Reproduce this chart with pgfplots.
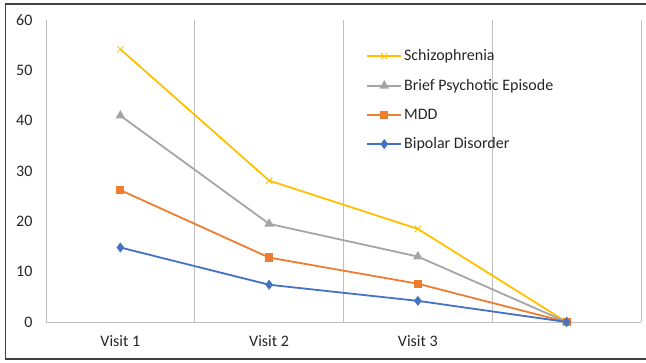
\documentclass[border=0pt]{standalone}
\usepackage{pgfplots}
\pgfplotsset{compat=1.18}
\usepackage{fontspec}
\setmainfont{Carlito}
\definecolor{cschiz}{HTML}{FFC000}
\definecolor{cbrief}{HTML}{A5A5A5}
\definecolor{cmdd}{HTML}{ED7D31}
\definecolor{cbip}{HTML}{4472C4}
\definecolor{cgrid}{HTML}{BFBFBF}
\begin{document}
\begin{tikzpicture}[x=1pt,y=1pt]
\useasboundingbox (-46,-40) rectangle (600,322);
\draw[black!75, line width=1.2pt] (-40.5,-37) rectangle (604,318);
\begin{axis}[
  at={(0,0)}, anchor=south west,
  scale only axis, width=595pt, height=302pt,
  xmin=-0.5, xmax=3.5, ymin=0, ymax=60,
  xtick={0,1,2}, xticklabels={Visit 1,Visit 2,Visit 3},
  minor xtick={-0.5,0.5,1.5,2.5,3.5},
  xminorgrids, minor grid style={cgrid, line width=0.9pt},
  ytick={0,10,...,60},
  major tick length=0pt, minor tick length=0pt,
  axis x line*=bottom, axis y line*=left,
  x axis line style={cgrid, line width=0.9pt, -},
  y axis line style={draw=none},
  tick style={draw=none},
  xticklabel style={yshift=-10pt},
  yticklabel style={xshift=-10pt},
  /pgf/number format/assume math mode=true,
  tick label style={font=\fontsize{16}{19}\selectfont, text=black!85},
  legend style={draw=none, fill=none, at={(0.533,0.915)}, anchor=north west,
    font=\fontsize{16}{19}\selectfont, row sep=13pt, text=black!85},
  legend cell align=left,
  legend image code/.code={\draw[mark repeat=2,mark phase=2] plot coordinates {(0pt,0pt) (17pt,0pt) (34pt,0pt)};},
  every axis plot/.append style={line width=1.8pt},
  clip=false,
]
\addplot[cschiz, mark=x, mark size=4.5pt, mark options={line width=0.8pt}] coordinates {(0,54.2) (1,28.1) (2,18.5) (3,0)};
\addlegendentry{Schizophrenia}
\addplot[cbrief, mark=triangle*, mark size=3.8pt] coordinates {(0,41) (1,19.5) (2,13) (3,0)};
\addlegendentry{Brief Psychotic Episode}
\addplot[cmdd, mark=square*, mark size=3.2pt] coordinates {(0,26.2) (1,12.8) (2,7.6) (3,0)};
\addlegendentry{MDD}
\addplot[cbip, mark=diamond*, mark size=3.6pt] coordinates {(0,14.8) (1,7.4) (2,4.2) (3,0)};
\addlegendentry{Bipolar Disorder}
\end{axis}
\end{tikzpicture}
\end{document}
